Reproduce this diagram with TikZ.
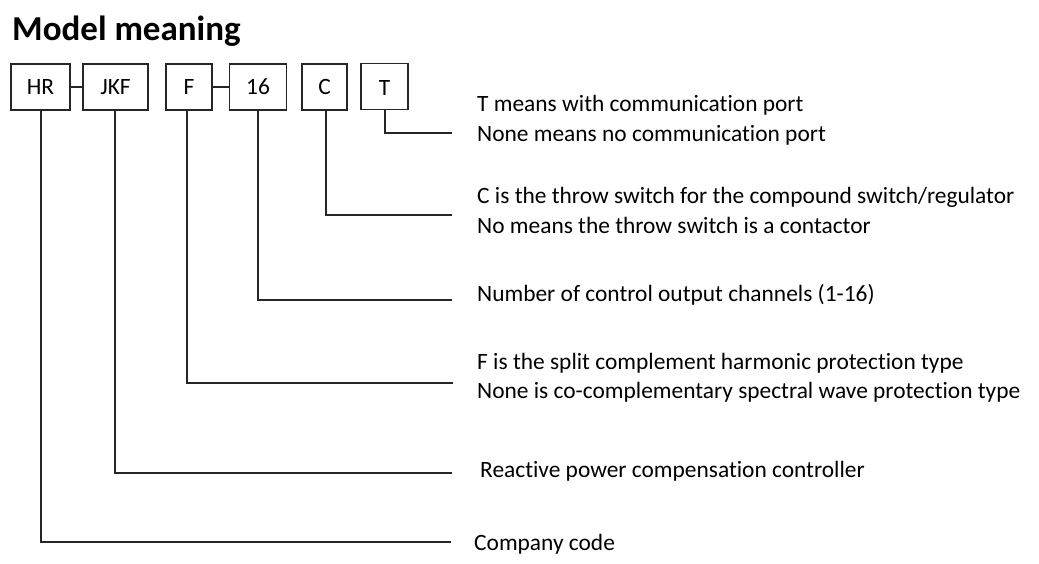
\documentclass[tikz,border=0pt]{standalone}
\usepackage{fontspec}
\setmainfont{Carlito}[Ligatures=NoCommon]
\begin{document}
\begin{tikzpicture}[x=1pt,y=-1pt,
  codebox/.style={draw=black!85,line width=1.3pt,inner sep=0pt,text height=15pt,text depth=0pt,font=\fontsize{23.4}{27}\selectfont},
  link/.style={draw=black!85,line width=1.3pt},
  desc/.style={anchor=base west,inner sep=0pt,font=\fontsize{23.4}{27}\selectfont}]
\useasboundingbox (0,0) rectangle (1039,564);
\node[anchor=base west,inner sep=0pt,font=\fontsize{35}{40}\selectfont\bfseries] (title) at (12,41) {Model meaning};
% boxes
\node[codebox,minimum width=59pt,minimum height=46pt] (hr) at (40.5,87) {HR};
\node[codebox,minimum width=65pt,minimum height=46pt] (jkf) at (115.5,87) {JKF};
\node[codebox,minimum width=46pt,minimum height=46pt] (f) at (189,87) {F};
\node[codebox,minimum width=57pt,minimum height=46pt] (n16) at (258,87) {16};
\node[codebox,minimum width=45pt,minimum height=46pt] (c) at (324.5,87) {C};
\node[codebox,minimum width=47pt,minimum height=46pt] (t) at (384.5,86.5) {\raisebox{-1.5pt}{T}};
\draw[link] (hr) -- (jkf);
\draw[link] (f) -- (n16);
% descriptions
\node[desc] (dt1) at (477,112) {T means with communication port};
\node[desc] (dt2) at (477,142) {None means no communication port};
\node[desc] (dc1) at (477,204) {C is the throw switch for the compound switch/regulator};
\node[desc] (dc2) at (477,234) {No means the throw switch is a contactor};
\node[desc] (dn) at (477,301) {Number of control output channels (1-16)};
\node[desc] (df1) at (477,369) {F is the split complement harmonic protection type};
\node[desc] (df2) at (477,398) {None is co-complementary spectral wave protection type};
\node[desc] (dj) at (480,477) {Reactive power compensation controller};
\node[desc] (dh) at (474,550) {Company code};
% connector ends
\coordinate (et) at (452,133);
\coordinate (ec) at (452,215);
\coordinate (en) at (452,300);
\coordinate (ef) at (453,383);
\coordinate (ej) at (452,473);
\coordinate (eh) at (451,542);
\draw[link] ([xshift=0.5pt]t.south) |- (et);
\draw[link] ([xshift=1.5pt]c.south) |- (ec);
\draw[link] (n16.south) |- (en);
\draw[link] ([xshift=-2pt]f.south) |- (ef);
\draw[link] ([xshift=-0.5pt]jkf.south) |- (ej);
\draw[link] ([xshift=0.5pt]hr.south) |- (eh);
\end{tikzpicture}
\end{document}
